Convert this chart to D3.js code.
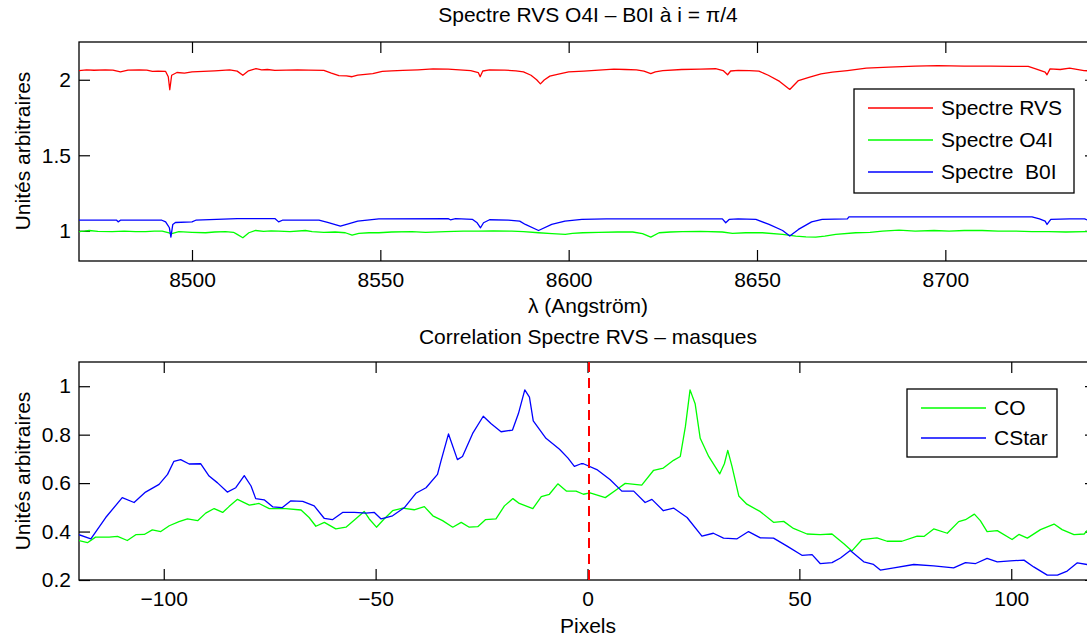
<!DOCTYPE html>
<html>
<head>
<meta charset="utf-8">
<script src="https://cdn.jsdelivr.net/npm/d3@7"></script>
<style>
  body { margin: 0; background: #fff; }
  svg { display: block; font-family: "Liberation Sans", Arial, Helvetica, sans-serif; }
  text { fill: #000; }
</style>
</head>
<body>
<svg></svg>
<script>
// --- top panel: spectra (lambda in Angstrom, arbitrary units)
let rvsLambda = [8470, 8472, 8474, 8477, 8479, 8481, 8483, 8486, 8488, 8489.5, 8491, 8493, 8493.7, 8494.1, 8494.6, 8496, 8498, 8500, 8503, 8506, 8508, 8510, 8512, 8513.5, 8515, 8517, 8518.5, 8520, 8522, 8525, 8528, 8531, 8535, 8537, 8539, 8541, 8542.5, 8544, 8546, 8548, 8550.5, 8553, 8556, 8560, 8564, 8568, 8572, 8574, 8576, 8576.5, 8577.2, 8579, 8583, 8586, 8588, 8590, 8591.5, 8592.5, 8593.5, 8595, 8597, 8600, 8604, 8608, 8612, 8615, 8618, 8620, 8621.8, 8623, 8625, 8630, 8635, 8639, 8641, 8642.2, 8643, 8645, 8648, 8650.5, 8653, 8656, 8658.7, 8661, 8664, 8667, 8670, 8674, 8679, 8685, 8692, 8698, 8705, 8712, 8718, 8722, 8724, 8726.5, 8727, 8727.8, 8730.5, 8733, 8736.8, 8740];
let rvsFlux = [2.061, 2.066, 2.063, 2.066, 2.064, 2.052, 2.064, 2.066, 2.064, 2.055, 2.057, 2.055, 2.020, 1.934, 2.030, 2.048, 2.044, 2.052, 2.055, 2.059, 2.062, 2.066, 2.057, 2.030, 2.059, 2.074, 2.066, 2.068, 2.062, 2.064, 2.066, 2.064, 2.062, 2.044, 2.028, 2.026, 2.020, 2.030, 2.035, 2.040, 2.055, 2.059, 2.062, 2.066, 2.072, 2.070, 2.064, 2.060, 2.048, 2.020, 2.058, 2.066, 2.064, 2.059, 2.052, 2.030, 2.000, 1.973, 1.998, 2.024, 2.035, 2.052, 2.057, 2.064, 2.070, 2.068, 2.066, 2.057, 2.040, 2.052, 2.061, 2.068, 2.070, 2.073, 2.061, 2.033, 2.058, 2.062, 2.061, 2.057, 2.030, 1.989, 1.936, 1.995, 2.018, 2.039, 2.050, 2.061, 2.077, 2.083, 2.090, 2.094, 2.090, 2.090, 2.088, 2.088, 2.072, 2.050, 2.033, 2.072, 2.068, 2.077, 2.061, 2.055];

let o4iLambda = [8470, 8471.5, 8472.7, 8475, 8478.8, 8482, 8485, 8487.7, 8490, 8492.1, 8493.9, 8494.4, 8496.5, 8500, 8503.6, 8506, 8508.9, 8511, 8512, 8513.5, 8515.1, 8516.9, 8519, 8521, 8523, 8526, 8530.1, 8531.9, 8535, 8538, 8540.7, 8542.5, 8544.3, 8547, 8549.6, 8553, 8558.4, 8562, 8567.3, 8572, 8576.1, 8580, 8584.9, 8588, 8592, 8595.6, 8599.1, 8601, 8603.7, 8608, 8613, 8617, 8619.6, 8621.8, 8624, 8627, 8630.2, 8635, 8640.8, 8643.5, 8647, 8651.4, 8656.8, 8660.3, 8663, 8665.6, 8668, 8670.9, 8676.2, 8680, 8683.3, 8687.7, 8692, 8697, 8701, 8705, 8709.8, 8714, 8718.6, 8723, 8727.5, 8732, 8737.2, 8740];
let o4iFlux = [0.994, 0.998, 1.002, 0.996, 0.994, 0.998, 0.994, 0.994, 0.998, 0.998, 0.987, 0.980, 0.994, 0.990, 0.987, 0.992, 0.994, 0.990, 0.976, 0.954, 0.987, 1.002, 0.996, 1.000, 0.998, 0.994, 1.002, 0.994, 0.990, 0.992, 0.987, 0.972, 0.983, 0.987, 0.987, 0.992, 0.994, 0.990, 0.994, 0.998, 0.998, 1.000, 0.998, 0.994, 0.987, 0.981, 0.976, 0.983, 0.987, 0.990, 0.992, 0.992, 0.981, 0.958, 0.987, 0.992, 0.994, 0.996, 0.992, 0.983, 0.987, 0.987, 0.976, 0.965, 0.960, 0.958, 0.965, 0.976, 0.987, 0.990, 0.998, 1.004, 0.998, 1.002, 0.998, 1.002, 1.002, 0.998, 0.998, 0.994, 0.994, 0.992, 0.994, 0.994];

let b0iLambda = [8470, 8480, 8480.4, 8481, 8492, 8493, 8494, 8494.4, 8494.9, 8495.6, 8500, 8501, 8512, 8522, 8523, 8524, 8533.7, 8536, 8539.4, 8541.5, 8544, 8549.6, 8568, 8568.6, 8570, 8574.5, 8575.7, 8576.6, 8577.4, 8579, 8584, 8587, 8588.5, 8592, 8595.5, 8599, 8603.5, 8610, 8640.8, 8641.7, 8642.6, 8645, 8649.7, 8653.2, 8656.8, 8658.7, 8661, 8664.5, 8667.3, 8674, 8674.4, 8723, 8725, 8726.5, 8727, 8728, 8733, 8737, 8738, 8740];
let b0iFlux = [1.070, 1.070, 1.059, 1.070, 1.070, 1.059, 1.020, 0.958, 1.042, 1.055, 1.059, 1.070, 1.081, 1.081, 1.059, 1.070, 1.070, 1.055, 1.031, 1.046, 1.064, 1.079, 1.081, 1.073, 1.081, 1.075, 1.053, 1.020, 1.053, 1.073, 1.070, 1.064, 1.042, 1.002, 1.042, 1.064, 1.075, 1.079, 1.079, 1.053, 1.075, 1.079, 1.075, 1.042, 1.002, 0.965, 1.009, 1.059, 1.075, 1.079, 1.092, 1.092, 1.079, 1.064, 1.042, 1.075, 1.079, 1.079, 1.068, 1.070];

let spectraNames = ["Spectre RVS", "Spectre O4I", "Spectre  B0I"];
let lambdaTicks = [8500, 8550, 8600, 8650, 8700];
let fluxTicks = [1, 1.5, 2];

// --- bottom panel: correlation with masks (pixels)
let coPixels = [-120, -118, -116.1, -112.9, -110.9, -108.6, -106.6, -104.6, -102.7, -100.7, -98.7, -96.4, -94.4, -92, -90.1, -88.1, -86.1, -84.6, -82.6, -79.8, -77.5, -75.1, -71.2, -67.6, -65.7, -64.1, -62.1, -59.4, -57, -54.6, -52.7, -51.5, -49.8, -48, -46, -43.6, -40.9, -38.5, -36.5, -34.2, -31.8, -29.8, -27.9, -25.9, -24.1, -21.6, -19.6, -17.6, -16.1, -12.9, -10.9, -9, -7, -5, -2.7, -0.96, 0.6, 4.2, 6.9, 8.9, 12.8, 15.6, 17.9, 20.3, 21.9, 23.1, 24.2, 25.4, 26.6, 28.6, 31.2, 32.3, 33.1, 34.1, 35.7, 37.6, 40.8, 43.9, 46.3, 48.6, 51.8, 54.9, 57.7, 60.5, 62.4, 64.8, 68.3, 70.7, 74.2, 77.8, 79.4, 81.7, 84.9, 87.6, 89.2, 91.3, 92.7, 94.3, 96.7, 100.2, 101.8, 103.8, 106.9, 110.1, 112, 114.8, 117.2, 117.9, 120];
let coValues = [0.363, 0.354, 0.377, 0.377, 0.380, 0.363, 0.387, 0.388, 0.407, 0.400, 0.424, 0.441, 0.452, 0.445, 0.476, 0.495, 0.479, 0.503, 0.533, 0.509, 0.516, 0.495, 0.495, 0.489, 0.458, 0.422, 0.438, 0.411, 0.418, 0.454, 0.483, 0.452, 0.418, 0.452, 0.486, 0.497, 0.490, 0.503, 0.465, 0.445, 0.418, 0.438, 0.418, 0.420, 0.449, 0.452, 0.506, 0.536, 0.516, 0.495, 0.544, 0.554, 0.597, 0.567, 0.567, 0.554, 0.560, 0.540, 0.574, 0.599, 0.592, 0.653, 0.662, 0.694, 0.710, 0.833, 0.985, 0.928, 0.785, 0.710, 0.638, 0.680, 0.735, 0.669, 0.547, 0.513, 0.482, 0.438, 0.442, 0.413, 0.390, 0.387, 0.390, 0.350, 0.320, 0.367, 0.374, 0.360, 0.360, 0.381, 0.380, 0.411, 0.393, 0.441, 0.449, 0.472, 0.445, 0.400, 0.404, 0.367, 0.388, 0.373, 0.408, 0.431, 0.408, 0.387, 0.390, 0.404, 0.410];

let cstarPixels = [-120, -117.2, -113.7, -109.8, -107, -104.3, -101.1, -99.1, -97.6, -96, -94, -91.3, -89.3, -87.3, -85, -83, -81, -79.4, -78.3, -76.3, -74.3, -72, -70, -67.2, -64.5, -62.1, -60.2, -57.8, -55, -52.3, -50.3, -48.7, -46, -43.2, -40.5, -38.1, -35.4, -34.6, -32.8, -30.7, -29.5, -27.1, -24.6, -22.8, -20.4, -17.7, -16.3, -14.8, -13.7, -12.8, -9.8, -6.6, -4.6, -3.1, -1.5, -0.96, 2.2, 5.3, 8.1, 10.9, 13.6, 15.2, 17.9, 20.3, 23.5, 27, 29.7, 32.1, 35.3, 38, 40.8, 43.9, 47.1, 50.6, 53, 54.9, 57.7, 59.7, 62, 65.2, 67.5, 69.1, 72.3, 77, 81.7, 86.4, 89.2, 91.6, 94.3, 96.7, 99.8, 103, 105.3, 108.5, 110.9, 113.2, 115.6, 117.9, 120];
let cstarValues = [0.387, 0.370, 0.458, 0.540, 0.520, 0.563, 0.595, 0.636, 0.690, 0.697, 0.679, 0.680, 0.629, 0.601, 0.563, 0.581, 0.631, 0.588, 0.536, 0.531, 0.502, 0.499, 0.527, 0.525, 0.506, 0.454, 0.449, 0.479, 0.479, 0.476, 0.479, 0.452, 0.465, 0.499, 0.558, 0.581, 0.636, 0.690, 0.803, 0.697, 0.710, 0.805, 0.876, 0.846, 0.812, 0.819, 0.887, 0.985, 0.955, 0.857, 0.785, 0.740, 0.703, 0.669, 0.680, 0.680, 0.656, 0.615, 0.567, 0.567, 0.520, 0.533, 0.486, 0.497, 0.458, 0.381, 0.393, 0.373, 0.370, 0.400, 0.374, 0.373, 0.340, 0.302, 0.305, 0.268, 0.272, 0.291, 0.322, 0.275, 0.264, 0.241, 0.250, 0.264, 0.258, 0.250, 0.272, 0.268, 0.289, 0.275, 0.279, 0.282, 0.254, 0.220, 0.220, 0.237, 0.271, 0.264, 0.262];

let corrNames = ["CO", "CStar"];
let pixelTicks = [-100, -50, 0, 50, 100];
let corrTicks = [0.2, 0.4, 0.6, 0.8, 1];

let width = 1087;
let height = 637;
let fontSize = 21;
let svg = d3.select("svg").attr("width", width).attr("height", height)
  .style("font-size", fontSize + "px");

let fmt = d3.format("~g");

// draws the boxed axes matlab-style: inward ticks on all four sides
let drawFrame = (box, xScale, yScale, xTicks, yTicks, id) => {
  let g = svg.append("g").attr("id", id);
  let tick = 11;

  g.append("g")
    .attr("transform", `translate(0, ${box.bottom})`)
    .call(d3.axisBottom(xScale).tickValues(xTicks).tickFormat(fmt)
      .tickSizeInner(-tick).tickSizeOuter(0).tickPadding(11));
  g.append("g")
    .attr("transform", `translate(0, ${box.top})`)
    .call(d3.axisTop(xScale).tickValues(xTicks).tickFormat("")
      .tickSizeInner(-tick).tickSizeOuter(0));
  g.append("g")
    .attr("transform", `translate(${box.left}, 0)`)
    .call(d3.axisLeft(yScale).tickValues(yTicks).tickFormat(fmt)
      .tickSizeInner(-tick).tickSizeOuter(0).tickPadding(8));
  g.append("g")
    .attr("transform", `translate(${box.right}, 0)`)
    .call(d3.axisRight(yScale).tickValues(yTicks).tickFormat("")
      .tickSizeInner(-tick).tickSizeOuter(0));

  g.selectAll(".domain").remove();
  g.selectAll(".tick line").attr("stroke", "#000").attr("stroke-width", 1.2);
  g.selectAll(".tick text")
    .attr("fill", "#000")
    .style("font-size", fontSize + "px")
    .style("font-family", "\"Liberation Sans\", Arial, sans-serif");

  g.append("rect")
    .attr("x", box.left)
    .attr("y", box.top)
    .attr("width", box.right - box.left)
    .attr("height", box.bottom - box.top)
    .attr("fill", "none")
    .attr("stroke", "#000")
    .attr("stroke-width", 1.3);

  svg.append("defs").append("clipPath").attr("id", id + "-clip")
    .append("rect")
    .attr("x", box.left)
    .attr("y", box.top)
    .attr("width", box.right - box.left)
    .attr("height", box.bottom - box.top);
};

let drawSeries = (id, xs, ys, xScale, yScale, color) => {
  let pts = xs.map((x, i) => [x, ys[i]]);
  let line = d3.line().x((d) => xScale(d[0])).y((d) => yScale(d[1]));
  svg.append("path")
    .datum(pts)
    .attr("clip-path", `url(#${id}-clip)`)
    .attr("d", line)
    .attr("fill", "none")
    .attr("stroke", color)
    .attr("stroke-width", 1.3)
    .attr("stroke-linejoin", "round");
};

let drawLegend = (x, y, w, rowH, names, colors) => {
  let g = svg.append("g");
  g.append("rect")
    .attr("x", x)
    .attr("y", y)
    .attr("width", w)
    .attr("height", rowH * names.length + 8)
    .attr("fill", "#fff")
    .attr("stroke", "#000")
    .attr("stroke-width", 1.3);
  names.forEach((name, i) => {
    let cy = y + 19 + i * rowH;
    g.append("line")
      .attr("x1", x + 14).attr("x2", x + 79)
      .attr("y1", cy).attr("y2", cy)
      .attr("stroke", colors[i])
      .attr("stroke-width", 1.3);
    g.append("text")
      .attr("x", x + 87)
      .attr("y", cy)
      .attr("dy", "0.35em")
      .style("white-space", "pre")
      .attr("xml:space", "preserve")
      .text(name);
  });
};

let centerText = (x, y, str, rotate) => {
  let t = svg.append("text")
    .attr("text-anchor", "middle")
    .text(str);
  if (rotate) {
    t.attr("transform", `translate(${x}, ${y}) rotate(-90)`);
  } else {
    t.attr("x", x).attr("y", y);
  }
};

// ---- top chart
let topBox = { left: 79, right: 1096, top: 42, bottom: 261 };
let xTop = d3.scaleLinear().domain([8470, 8740]).range([topBox.left, topBox.right]);
let yTop = d3.scaleLinear().domain([0.8, 2.25]).range([topBox.bottom, topBox.top]);
drawFrame(topBox, xTop, yTop, lambdaTicks, fluxTicks, "top");
drawSeries("top", rvsLambda, rvsFlux, xTop, yTop, "#ff0000");
drawSeries("top", o4iLambda, o4iFlux, xTop, yTop, "#00ff00");
drawSeries("top", b0iLambda, b0iFlux, xTop, yTop, "#0000ff");
drawLegend(854, 89, 220, 32, spectraNames, ["#ff0000", "#00ff00", "#0000ff"]);

centerText(588, 22, "Spectre RVS O4I \u2013 B0I \u00e0 i = \u03c0/4");
centerText(588, 313, "\u03bb (Angstr\u00f6m)");
centerText(30, 151, "Unit\u00e9s arbitraires", true);

// ---- bottom chart
let botBox = { left: 79, right: 1096, top: 362, bottom: 580 };
let xBot = d3.scaleLinear().domain([-120, 120]).range([botBox.left, botBox.right]);
let yBot = d3.scaleLinear().domain([0.2, 1.1]).range([botBox.bottom, botBox.top]);
drawFrame(botBox, xBot, yBot, pixelTicks, corrTicks, "bot");
drawSeries("bot", coPixels, coValues, xBot, yBot, "#00ff00");
drawSeries("bot", cstarPixels, cstarValues, xBot, yBot, "#0000ff");

// zero-lag marker
svg.append("line")
  .attr("x1", Math.round(xBot(0)) + 1).attr("x2", Math.round(xBot(0)) + 1)
  .attr("y1", botBox.top).attr("y2", botBox.bottom)
  .attr("stroke", "#ff0000")
  .attr("stroke-width", 2)
  .attr("stroke-dasharray", "10,6");

drawLegend(907, 389, 150, 30, corrNames, ["#00ff00", "#0000ff"]);

centerText(588, 344, "Correlation Spectre RVS \u2013 masques");
centerText(588, 633, "Pixels");
centerText(30, 471, "Unit\u00e9s arbitraires", true);
</script>
</body>
</html>
